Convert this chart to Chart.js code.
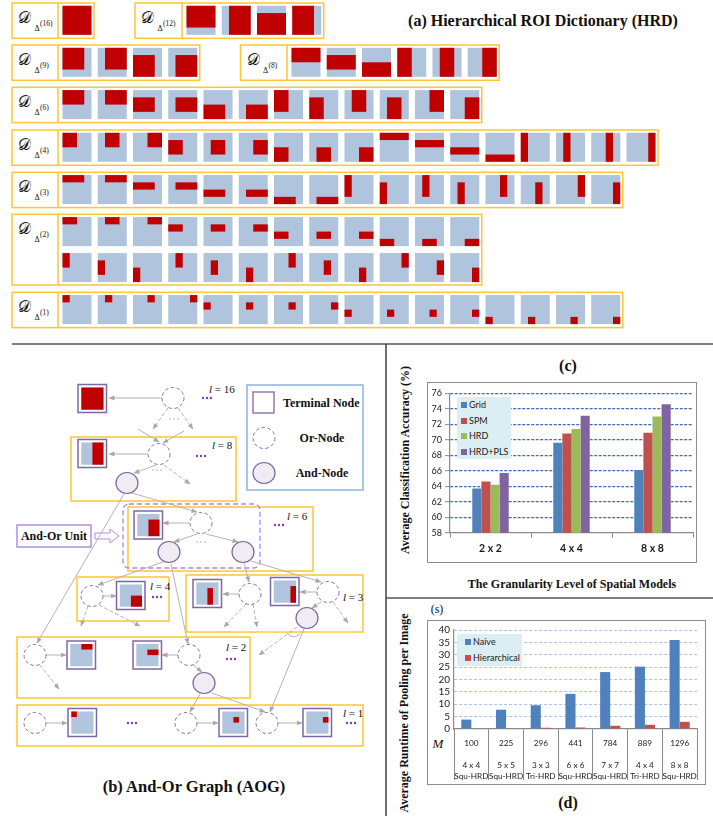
<!DOCTYPE html>
<html>
<head>
<meta charset="utf-8">
<title>Hierarchical ROI Dictionary, And-Or Graph and pooling results</title>
<script src="https://cdn.jsdelivr.net/npm/chart.js@4.4.1/dist/chart.umd.min.js"></script>
<style>
  html, body { margin: 0; padding: 0; background: #fff; }
  #page { position: relative; width: 713px; height: 816px; overflow: hidden; background: #fff; }
  #art { position: absolute; left: 0; top: 0; }
  .plot { position: absolute; }
  .plot canvas { position: absolute; left: 0; top: 0; }
  .frame { position: absolute; box-sizing: border-box; border: 1.5px solid #8c8c8c; pointer-events: none; }
  .legend { position: absolute; background: #DAEEF3; font-family: Lato, 'Liberation Sans', Arial, sans-serif; font-size: 9px; color: #1a1a1a; }
  .legend .item { position: absolute; white-space: nowrap; line-height: 12px; }
  .legend .sw { position: absolute; }
</style>
</head>
<body>
<div id="page">
  <svg id="art" width="713" height="816" xmlns="http://www.w3.org/2000/svg"></svg>
  <div class="plot" style="left:427px;top:382px;width:270px;height:181px;"><canvas id="accChart" width="270" height="181"></canvas></div>
  <div class="frame" style="left:427px;top:382px;width:270px;height:181px;"></div>
  <div class="legend" id="accLegend" style="left:457px;top:397px;width:54px;height:62px;"></div>
  <div class="plot" style="left:427px;top:620px;width:279px;height:165px;"><canvas id="timeChart" width="279" height="165"></canvas></div>
  <div class="frame" style="left:427px;top:620px;width:279px;height:165px;"></div>
  <div class="legend" id="timeLegend" style="left:457px;top:634px;width:65px;height:32px;"></div>
</div>
<script>
// ---------- (c) classification accuracy per spatial model ----------
const granularityLevels = ['2 x 2', '4 x 4', '8 x 8'];
const accuracySeries = ['Grid', 'SPM', 'HRD', 'HRD+PLS'];
const accGrid   = [63.7, 69.6, 66.1];
const accSPM    = [64.6, 70.8, 70.9];
const accHRD    = [64.2, 71.4, 73.0];
const accHRDPLS = [65.7, 73.1, 74.6];
const accuracyTicks = [58, 60, 62, 64, 66, 68, 70, 72, 74, 76];

// ---------- (d) pooling runtime per image ----------
const roiCounts = ['100', '225', '296', '441', '784', '889', '1296'];
const gridSizes = ['4 x 4', '5 x 5', '3 x 3', '6 x 6', '7 x 7', '4 x 4', '8 x 8'];
const hrdTypes  = ['Squ-HRD', 'Squ-HRD', 'Tri-HRD', 'Squ-HRD', 'Squ-HRD', 'Tri-HRD', 'Squ-HRD'];
const runtimeSeries = ['Naive', 'Hierarchical'];
const runtimeNaive = [3.8, 7.8, 9.6, 14.2, 23.0, 25.2, 36.0];
const runtimeHier  = [0.2, 0.2, 0.5, 0.6, 1.3, 1.7, 2.9];
const runtimeTicks = [0, 5, 10, 15, 20, 25, 30, 35, 40];

// ---------- (a) ROI dictionaries on a 4 x 4 grid, [x, y, w, h] ----------
function byRows(w, h) { const out = []; for (let y = 0; y + h <= 4; y++) for (let x = 0; x + w <= 4; x++) out.push([x, y, w, h]); return out; }
function byCols(w, h) { const out = []; for (let x = 0; x + w <= 4; x++) for (let y = 0; y + h <= 4; y++) out.push([x, y, w, h]); return out; }
const dict16 = byRows(4, 4);
const dict12 = [[0, 0, 4, 3], [1, 0, 3, 4], [0, 1, 4, 3], [0, 0, 3, 4]];
const dict9  = byRows(3, 3);
const dict8  = byRows(4, 2).concat(byCols(2, 4));
const dict6  = byRows(3, 2).concat(byCols(2, 3));
const dict4  = byRows(2, 2).concat(byRows(4, 1), byCols(1, 4));
const dict3  = byRows(3, 1).concat(byCols(1, 3));
const dict2h = byRows(2, 1);
const dict2v = byCols(1, 2);
const dict1  = byRows(1, 1);

const SERIF = "'Liberation Serif','Times New Roman',serif";
const SANS = "Lato, 'Liberation Sans', Arial, sans-serif";

const NS = 'http://www.w3.org/2000/svg';
const art = document.getElementById('art');
function el(tag, attrs, parent) {
  const e = document.createElementNS(NS, tag);
  for (const k in attrs) e.setAttribute(k, attrs[k]);
  (parent || art).appendChild(e);
  return e;
}
function txt(str, x, y, opts) {
  const t = el('text', Object.assign({ x, y, 'dominant-baseline': 'central', 'font-family': SERIF, fill: '#111' }, opts || {}));
  t.textContent = str;
  return t;
}

// panel separators
el('line', { x1: 12, y1: 344, x2: 713, y2: 344, stroke: '#555', 'stroke-width': 1.6 });
el('line', { x1: 386, y1: 344, x2: 386, y2: 816, stroke: '#333', 'stroke-width': 1.4 });
el('line', { x1: 386, y1: 598, x2: 713, y2: 598, stroke: '#555', 'stroke-width': 1.4 });

// ---------- (a) dictionary strips ----------
const ROI_RED = '#C00000', ROI_BLUE = '#B0C4DE', GOLD = '#FFC633';
const CELL = 29, PITCH = 35.25;
function roiCell(x, y, size, r) {
  el('rect', { x, y, width: size, height: size, fill: ROI_BLUE });
  const u = size / 4;
  el('rect', { x: x + r[0] * u, y: y + r[1] * u, width: r[2] * u, height: r[3] * u, fill: ROI_RED });
}
function dictLabel(x, y, order) {
  txt('𝒟', x + 6, y + 14.5, { 'font-size': 15.5, 'font-family': "'DejaVu Serif','DejaVu Sans',serif" });
  txt('Δ', x + 22.5, y + 25, { 'font-size': 8 });
  txt('(' + order + ')', x + 28, y + 20.5, { 'font-size': 7.5 });
}
const dictionaryPanels = [
  { order: 16, x: 12,    y: 3,     labelW: 46,   lines: [dict16] },
  { order: 12, x: 135,   y: 3,     labelW: 47,   lines: [dict12] },
  { order: 9,  x: 12,    y: 45,    labelW: 46,   lines: [dict9] },
  { order: 8,  x: 240.5, y: 45,    labelW: 46.5, lines: [dict8] },
  { order: 6,  x: 12,    y: 87.3,  labelW: 46,   lines: [dict6] },
  { order: 4,  x: 12,    y: 130,   labelW: 46,   lines: [dict4] },
  { order: 3,  x: 12,    y: 172.3, labelW: 46,   lines: [dict3] },
  { order: 2,  x: 12,    y: 214.3, labelW: 46,   lines: [dict2h, dict2v] },
  { order: 1,  x: 12,    y: 292.3, labelW: 46,   lines: [dict1] }
];
dictionaryPanels.forEach(p => {
  const n = Math.max(...p.lines.map(l => l.length));
  const w = p.labelW + 4.5 + (n - 1) * PITCH + CELL + 2.5;
  const h = p.lines.length === 1 ? 35.3 : 70.7;
  p.lines.forEach((line, li) => line.forEach((r, i) =>
    roiCell(p.x + p.labelW + 4.5 + i * PITCH, p.y + 2.8 + li * 36, CELL, r)));
  el('rect', { x: p.x, y: p.y, width: w, height: h, fill: 'none', stroke: GOLD, 'stroke-width': 1.5 });
  el('line', { x1: p.x + p.labelW, y1: p.y, x2: p.x + p.labelW, y2: p.y + h, stroke: GOLD, 'stroke-width': 1.5 });
  dictLabel(p.x, p.y, p.order);
});
txt('(a) Hierarchical ROI Dictionary (HRD)', 543, 20, { 'font-size': 16, 'font-weight': 'bold', 'text-anchor': 'middle' });

// ---------- (b) And-Or graph ----------
const defs = el('defs', {});
const head = el('marker', { id: 'head', viewBox: '0 0 6 6', refX: 5.5, refY: 3, markerWidth: 6, markerHeight: 6, orient: 'auto', markerUnits: 'userSpaceOnUse' }, defs);
el('path', { d: 'M0,0.6 L6,3 L0,5.4 z', fill: '#A8A8A8' }, head);

const LINE_GREY = '#B4B4B4', NODE_PURPLE = '#8064A2';
function levelBox(x, y, w, h) { el('rect', { x, y, width: w, height: h, fill: 'none', stroke: GOLD, 'stroke-width': 1.5 }); }
function edge(e, dashed) {
  el('line', { x1: e[0], y1: e[1], x2: e[2], y2: e[3], stroke: LINE_GREY, 'stroke-width': 1,
    'stroke-dasharray': dashed ? '4 2' : 'none', 'marker-end': 'url(#head)' });
}
function orNode(cx, cy) { el('ellipse', { cx, cy, rx: 11, ry: 10.5, fill: '#fff', stroke: '#8A70B2', 'stroke-width': 1, 'stroke-dasharray': '3.5 2.5' }); }
function andNode(cx, cy) { el('ellipse', { cx, cy, rx: 11, ry: 10.5, fill: '#EFECF4', stroke: NODE_PURPLE, 'stroke-width': 1.2 }); }
function terminal(x, y, r) {
  el('rect', { x, y, width: 28.5, height: 28, fill: '#fff', stroke: '#7E67A8', 'stroke-width': 1.5 });
  roiCell(x + 3.3, y + 3, 22.2, r);
}
function dots(cx, cy, color, r) { [-4, 0, 4].forEach(d => el('circle', { cx: cx + d, cy, r, fill: color })); }
function levelTag(n, x, y) {
  const t = el('text', { x, y, 'dominant-baseline': 'central', 'font-family': SERIF, 'font-size': 11, fill: '#111' });
  const l = el('tspan', { 'font-style': 'italic' }, t); l.textContent = 'l';
  const r = el('tspan', {}, t); r.textContent = ' = ' + n;
}

levelBox(71, 437, 165, 64);
levelBox(128, 507, 185, 64);
levelBox(77, 577, 92, 44);
levelBox(186, 575, 177, 57);
levelBox(17, 637, 233, 61);
levelBox(17, 705, 346, 41);
el('rect', { x: 123, y: 504, width: 137, height: 64, rx: 6, fill: 'none', stroke: '#A985EA', 'stroke-width': 1.3, 'stroke-dasharray': '5 3' });
el('rect', { x: 247, y: 385, width: 116, height: 105, fill: 'none', stroke: '#8DB4E2', 'stroke-width': 1.5 });
el('rect', { x: 17, y: 525, width: 74, height: 22, fill: '#fff', stroke: '#A47FE0', 'stroke-width': 1.3 });
txt('And-Or Unit', 54, 536, { 'font-size': 12, 'font-weight': 'bold', 'text-anchor': 'middle' });
el('polygon', { points: '95,533 110,533 110,529 119,536 110,543 110,539 95,539', fill: '#fff', stroke: '#B08CE8', 'stroke-width': 1 });

const solidEdges = [
  [162, 398, 109, 398], [138, 429, 159, 442], [184, 431, 163, 443],
  [148, 454, 109, 454], [156, 465, 134, 473], [132, 493, 197, 512], [124, 494, 37, 643],
  [190, 523, 163, 523], [197, 534, 174, 542], [206, 534, 238, 542],
  [163, 562, 98, 585], [171, 564, 188, 644], [244, 563, 249, 582], [251, 561, 321, 582],
  [103, 596, 116, 596], [239, 594, 223, 594], [317, 592, 300, 592], [321, 602, 312, 608],
  [304, 629, 270, 712], [46, 655, 66, 655], [178, 655, 162, 655], [193, 665, 202, 672],
  [200, 694, 190, 712], [212, 693, 265, 712],
  [46, 723, 67, 723], [197, 723, 218, 723], [278, 723, 302, 723]
];
const dashedEdges = [
  [168, 408, 153, 429], [178, 408, 193, 429], [164, 465, 190, 484],
  [88, 606, 81, 626], [99, 605, 140, 626], [246, 604, 224, 627], [253, 604, 257, 627],
  [333, 602, 348, 623], [297, 627, 259, 655], [40, 665, 59, 689]
];
solidEdges.forEach(e => edge(e, false));
dashedEdges.forEach(e => edge(e, true));
el('path', { d: 'M287,633 Q293,640 300,634', fill: 'none', stroke: LINE_GREY, 'stroke-width': 1 });

[[173, 398], [159, 454], [201, 523], [92, 596], [250, 594], [328, 592], [35, 655], [189, 655], [35, 723], [186, 723], [267, 723]]
  .forEach(p => orNode(p[0], p[1]));
[[127, 483], [169, 552], [243, 552], [307, 618], [204, 683]].forEach(p => andNode(p[0], p[1]));

terminal(78, 384.5, [0, 0, 4, 4]);
terminal(78, 439.5, [2, 0, 2, 4]);
terminal(134, 511, [2, 1, 2, 3]);
terminal(116.5, 581.5, [2, 2, 2, 2]);
terminal(193, 579.5, [2, 1, 1, 3]);
terminal(270.5, 577.5, [3, 1, 1, 3]);
terminal(67, 641, [2, 0, 2, 1]);
terminal(133, 641, [2, 1, 2, 1]);
terminal(68, 708.5, [0, 0, 1, 1]);
terminal(219, 708.5, [2, 1, 1, 1]);
terminal(303, 708.5, [3, 1, 1, 1]);

const DOT_PURPLE = '#7A3DB0';
[[207, 398], [201, 456], [279, 525], [157, 597], [231, 659], [132, 723], [351, 723]].forEach(p => dots(p[0], p[1], DOT_PURPLE, 1.2));
[[174, 419], [157, 470], [201, 542]].forEach(p => dots(p[0], p[1], '#AAAAAA', 0.8));

levelTag(16, 209, 389);
levelTag(8, 212, 445);
levelTag(6, 287, 516);
levelTag(4, 150, 586);
levelTag(3, 343, 597);
levelTag(2, 226, 647);
levelTag(1, 343, 713);

// legend of node types
el('rect', { x: 253, y: 392, width: 21, height: 21, fill: 'none', stroke: '#7E67A8', 'stroke-width': 1.3 });
orNode(264, 438);
andNode(264, 473);
txt('Terminal Node', 283, 402.5, { 'font-size': 12, 'font-weight': 'bold' });
txt('Or-Node', 322, 438, { 'font-size': 12, 'font-weight': 'bold', 'text-anchor': 'middle' });
txt('And-Node', 322, 473, { 'font-size': 12, 'font-weight': 'bold', 'text-anchor': 'middle' });
txt('(b) And-Or Graph (AOG)', 194, 786, { 'font-size': 16.5, 'font-weight': 'bold', 'text-anchor': 'middle' });

// ---------- chart captions and axis titles ----------
txt('(c)', 568, 365, { 'font-size': 16, 'font-weight': 'bold', 'text-anchor': 'middle' });
txt('Average Classification Accuracy (%)', 0, 0, { 'font-size': 12, 'font-weight': 'bold', 'text-anchor': 'middle', transform: 'translate(405,460) rotate(-90)' });
txt('The Granularity Level of Spatial Models', 572, 584, { 'font-size': 12, 'font-weight': 'bold', 'text-anchor': 'middle' });
txt('(s)', 437, 609, { 'font-size': 12, 'text-anchor': 'middle' });
txt('M', 438, 743, { 'font-size': 13, 'font-style': 'italic', 'text-anchor': 'middle' });
txt('Average Runtime of Pooling per Image', 0, 0, { 'font-size': 12, 'font-weight': 'bold', 'text-anchor': 'middle', transform: 'translate(404,713) rotate(-90)' });
txt('(d)', 568, 802, { 'font-size': 16, 'font-weight': 'bold', 'text-anchor': 'middle' });

// ---------- HTML legends for the two bar charts ----------
function buildLegend(id, names, colors, rows, swatchX, textX) {
  const box = document.getElementById(id);
  names.forEach((n, i) => {
    const sw = document.createElement('div');
    sw.className = 'sw';
    sw.style.cssText = `left:${swatchX}px;top:${rows[i] - 3}px;width:6px;height:6px;background:${colors[i]}`;
    const t = document.createElement('div');
    t.className = 'item';
    t.style.cssText = `left:${textX}px;top:${rows[i] - 6}px;`;
    t.textContent = n;
    box.append(sw, t);
  });
}
const accColors = ['#4F81BD', '#C0504D', '#9BBB59', '#8064A2'];
const timeColors = ['#4F81BD', '#C0504D'];
buildLegend('accLegend', accuracySeries, accColors, [8, 23.5, 39, 54.5], 4, 12);
buildLegend('timeLegend', runtimeSeries, timeColors, [8.3, 23.7], 8, 16);

// ---------- Chart.js bar charts ----------
const AXIS_GREY = '#8a8a8a';
const accValues = [accGrid, accSPM, accHRD, accHRDPLS];
new Chart(document.getElementById('accChart'), {
  type: 'bar',
  data: {
    labels: granularityLevels,
    datasets: accuracySeries.map((name, i) => ({ label: name, data: accValues[i], backgroundColor: accColors[i] }))
  },
  options: {
    responsive: false, animation: false, devicePixelRatio: 1,
    layout: { padding: { top: 11.3, right: 4, left: 0, bottom: 0 } },
    plugins: { legend: { display: false }, tooltip: { enabled: false } },
    datasets: { bar: { categoryPercentage: 0.45, barPercentage: 1 } },
    scales: {
      x: {
        grid: { display: true, drawOnChartArea: false, drawTicks: true, tickLength: 5, color: AXIS_GREY, offset: true },
        border: { color: AXIS_GREY, width: 1.2 },
        ticks: { font: { family: SANS, size: 10.5, weight: 'bold' }, color: '#1a1a1a', padding: 5, maxRotation: 0 },
        afterFit: s => { s.height = 30.3; }
      },
      y: {
        min: accuracyTicks[0], max: accuracyTicks[accuracyTicks.length - 1],
        ticks: { stepSize: accuracyTicks[1] - accuracyTicks[0], autoSkip: false, font: { family: SANS, size: 9 }, color: '#1a1a1a', padding: 3 },
        grid: { color: c => (c.tick && c.tick.value === accuracyTicks[0]) ? 'rgba(0,0,0,0)' : '#3E6DB5', lineWidth: 1.3, tickColor: AXIS_GREY, tickLength: 5, tickWidth: 1 },
        border: { color: AXIS_GREY, width: 1.2, dash: [3, 1.5] },
        afterFit: s => { s.width = 23; }
      }
    }
  }
});

const runtimeValues = [runtimeNaive, runtimeHier];
new Chart(document.getElementById('timeChart'), {
  type: 'bar',
  data: {
    labels: roiCounts.map((m, i) => [m, '', gridSizes[i], hrdTypes[i]]),
    datasets: runtimeSeries.map((name, i) => ({ label: name, data: runtimeValues[i], backgroundColor: timeColors[i] }))
  },
  options: {
    responsive: false, animation: false, devicePixelRatio: 1,
    layout: { padding: { top: 9, right: 9, left: 0, bottom: 0 } },
    plugins: { legend: { display: false }, tooltip: { enabled: false } },
    datasets: { bar: { categoryPercentage: 0.58, barPercentage: 1 } },
    scales: {
      x: {
        grid: { display: true, drawOnChartArea: false, drawTicks: true, tickLength: 51, color: AXIS_GREY, offset: true },
        border: { color: AXIS_GREY, width: 1.2 },
        ticks: { font: { family: SANS, size: 8.2, lineHeight: 1.35 }, color: '#1a1a1a', padding: -42.5, autoSkip: false, maxRotation: 0, minRotation: 0 },
        afterFit: s => { s.height = 56; }
      },
      y: {
        min: runtimeTicks[0], max: runtimeTicks[runtimeTicks.length - 1],
        ticks: { stepSize: runtimeTicks[1] - runtimeTicks[0], autoSkip: false, font: { family: SANS, size: 10 }, color: '#1a1a1a', padding: 4 },
        grid: { color: c => (c.tick && c.tick.value === runtimeTicks[0]) ? 'rgba(0,0,0,0)' : '#A9C3E8', lineWidth: 1, drawTicks: false },
        border: { color: AXIS_GREY, width: 1.2, dash: [3, 2] },
        afterFit: s => { s.width = 27; }
      }
    }
  }
});
</script>
</body>
</html>
